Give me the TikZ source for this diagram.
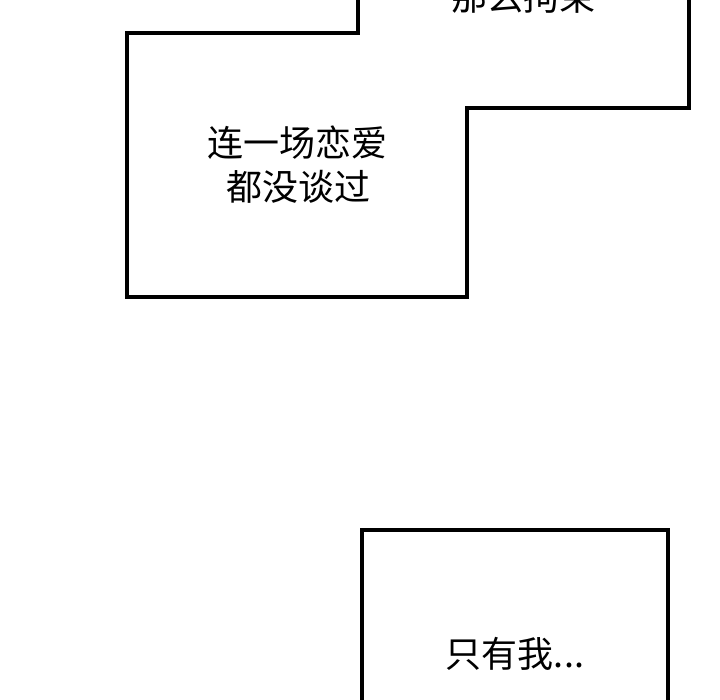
\documentclass[tikz,border=0pt]{standalone}
\usepackage{fontspec}
\newfontfamily\cjk{Noto Sans CJK SC}
\begin{document}
\begin{tikzpicture}[x=1pt,y=-1pt,
  panel/.style={draw=black,line width=4pt,line join=miter},
  say/.style={font=\cjk\fontsize{36}{44}\selectfont,inner sep=0pt,anchor=base}]
\useasboundingbox (0,0) rectangle (720,700);
\fill[white] (0,0) rectangle (720,700);
\begin{scope}
\clip (0,0) rectangle (720,700);
\draw[panel] (358,-10) -- (358,33) -- (127,33) -- (127,297) -- (467,297) -- (467,108) -- (689,108) -- (689,-10);
\draw[panel] (362,720) -- (362,530) -- (668,530) -- (668,720);
\node[say] (t0) at (523,11) {那么拘束};
\node[say] (t1) at (297,157) {连一场恋爱};
\node[say] (t2) at (298,201) {都没谈过};
\node[say] (t3) at (515,667) {只有我...};
\end{scope}
\end{tikzpicture}
\end{document}
